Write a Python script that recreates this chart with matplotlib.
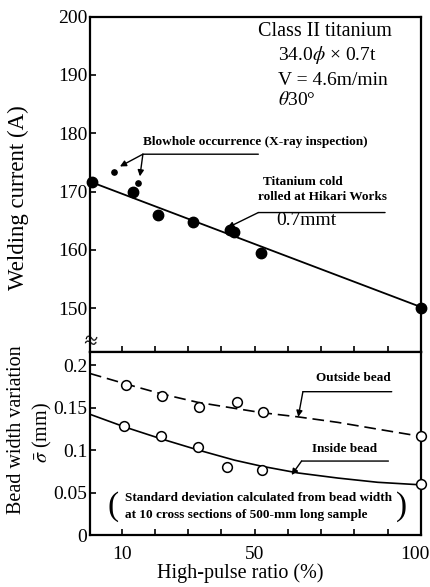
import matplotlib
matplotlib.use('Agg')
import matplotlib.pyplot as plt
from matplotlib.transforms import offset_copy

# welding current vs high-pulse ratio (filled dots)
cur_x = [1.2, 13.3, 21.0, 31.5, 42.6, 43.9, 51.9, 100]
cur_y = [171.6, 169.9, 166.0, 164.7, 163.4, 163.1, 159.4, 150.0]
# blowhole points (small dots)
blow_x = [7.8, 14.8]
blow_y = [173.3, 171.5]
# straight line through the current data
fit_x = [0.5, 100]
fit_y = [171.7, 150.2]

# bead width variation (open circles)
out_x = [11.2, 22.1, 33.4, 44.8, 52.6, 100]
out_y = [0.177, 0.163, 0.151, 0.157, 0.145, 0.116]
in_x = [10.7, 21.8, 33.1, 41.8, 52.1, 100]
in_y = [0.128, 0.116, 0.103, 0.080, 0.077, 0.060]

# curves
out_curve_x = [0.5, 11, 22, 33, 44, 52, 63, 75, 87, 100]
out_curve_y = [0.190, 0.178, 0.166, 0.156, 0.149, 0.144, 0.139, 0.1325, 0.1245, 0.116]
in_curve_x = [0.5, 11, 22, 33, 44, 52, 63, 75, 87, 100]
in_curve_y = [0.142, 0.127, 0.113, 0.100, 0.088, 0.081, 0.073, 0.067, 0.062, 0.059]

# ticks
xtick_vals = [10, 20, 30, 40, 50, 60, 70, 80, 90, 100]
xtick_labels = ['10', '', '', '', '50', '', '', '', '', '100']
cur_ticks = [150, 160, 170, 180, 190, 200]
sig_ticks = [0, 0.05, 0.1, 0.15, 0.2]
sig_labels = ['0', '0.05', '0.1', '0.15', '0.2']


def main():
    plt.rcParams['font.family'] = ['Liberation Serif', 'DejaVu Serif']
    plt.rcParams['mathtext.fontset'] = 'stix'

    fig = plt.figure(figsize=(4.31, 5.87), dpi=100)
    W, H = 431.0, 587.0
    ax1 = fig.add_axes([90 / W, 1 - 352 / H, 331 / W, 335.5 / H])
    ax2 = fig.add_axes([90 / W, 1 - 535 / H, 331 / W, 183 / H])

    for ax in (ax1, ax2):
        ax.set_xlim(0.5, 100)
        for s in ax.spines.values():
            s.set_linewidth(1.6)
        ax.set_xticks(xtick_vals)
        ax.tick_params(direction='in', length=4, width=1.2, labelsize=14,
                       top=False, right=False)
        ax.tick_params(axis='y', pad=2)
        ax.tick_params(axis='x', pad=8)

    # ---- top panel: welding current
    ax1.plot(fit_x, fit_y, color='black', lw=1.3, zorder=2)
    ax1.plot(cur_x, cur_y, 'o', color='black', ms=7.5, zorder=3, clip_on=False)
    ax1.plot(blow_x, blow_y, 'o', color='black', ms=3.8, zorder=3)
    ax1.set_ylim(142.5, 200)
    ax1.set_yticks(cur_ticks)
    ax1.tick_params(labelbottom=False)

    ax1.text(51, 197.5, 'Class II titanium', fontsize=14.5, va='center')
    ax1.text(57.1, 193.4, r'34.0$\phi$ × 0.7t', fontsize=14, va='center')
    ax1.text(57.1, 189.1, 'V = 4.6m/min', fontsize=14, va='center')
    ax1.text(57.1, 185.7, r'$\theta$30°', fontsize=14, va='center')

    arr = dict(arrowstyle='-|>', color='black', lw=1.0, mutation_scale=9,
               shrinkA=0, shrinkB=0)
    seg = dict(arrowstyle='-', color='black', lw=1.0, shrinkA=0, shrinkB=0)
    note = dict(fontsize=9.5, fontweight='bold', va='center')

    ax1.text(16.4, 178.5, 'Blowhole occurrence (X-ray inspection)', **note)
    ax1.annotate('', xy=(51.1, 176.4), xytext=(16.4, 176.4), arrowprops=seg)
    ax1.annotate('', xy=(9.5, 174.3), xytext=(16.4, 176.4), arrowprops=arr)
    ax1.annotate('', xy=(15.5, 172.6), xytext=(16.4, 176.4), arrowprops=arr)

    ax1.text(52.5, 171.6, 'Titanium cold', **note)
    ax1.text(51.1, 169.1, 'rolled at Hikari Works', **note)
    ax1.annotate('', xy=(89.2, 166.4), xytext=(51.1, 166.4), arrowprops=seg)
    ax1.annotate('', xy=(41.8, 163.8), xytext=(51.1, 166.4), arrowprops=arr)
    ax1.text(56.6, 165.1, '0.7mmt', fontsize=14, va='center')

    # axis break marks on the left spine
    ax1.text(0, 0.028, '≈', transform=ax1.transAxes, fontsize=17,
             ha='center', va='center', rotation=-10)

    # ---- bottom panel: bead width variation
    ax2.plot(out_curve_x, out_curve_y, color='black', lw=1.2,
             dashes=(7, 3.5), zorder=2)
    ax2.plot(in_curve_x, in_curve_y, color='black', lw=1.2, zorder=2)
    ax2.plot(out_x, out_y, 'o', mfc='white', mec='black', mew=1.1, ms=7,
             zorder=3, clip_on=False)
    ax2.plot(in_x, in_y, 'o', mfc='white', mec='black', mew=1.1, ms=7,
             zorder=3, clip_on=False)
    ax2.set_ylim(0, 0.2153)
    ax2.set_yticks(sig_ticks)
    ax2.set_yticklabels(sig_labels)
    ax2.set_xticklabels(xtick_labels)
    # keep the "100" label inside the figure
    last = ax2.get_xticklabels()[-1]
    last.set_ha('right')
    last.set_transform(offset_copy(last.get_transform(), fig=fig, x=9, y=0,
                                   units='dots'))

    ax2.text(68.4, 0.1843, 'Outside bead', **note)
    ax2.annotate('', xy=(91.2, 0.1686), xytext=(64.5, 0.1686), arrowprops=seg)
    ax2.annotate('', xy=(63.1, 0.139), xytext=(64.5, 0.1686), arrowprops=arr)

    ax2.text(67.1, 0.1008, 'Inside bead', **note)
    ax2.annotate('', xy=(90.2, 0.087), xytext=(64.1, 0.087), arrowprops=seg)
    ax2.annotate('', xy=(61.1, 0.0706), xytext=(64.1, 0.087), arrowprops=arr)

    ax2.text(11.0, 0.0431, 'Standard deviation calculated from bead width',
             **note)
    ax2.text(11.0, 0.0235, 'at 10 cross sections of 500-mm long sample',
             **note)
    ax2.text(7.5, 0.0333, '(', fontsize=24, ha='center', va='center')
    ax2.text(94.2, 0.0333, ')', fontsize=24, ha='center', va='center')

    # axis labels
    fig.text(18 / W, 1 - 197.5 / H, 'Welding current (A)', rotation=90,
             ha='center', va='center', fontsize=16.5)
    fig.text(17 / W, 1 - 430 / H, 'Bead width variation', rotation=90,
             ha='center', va='center', fontsize=14.5)
    fig.text(42 / W, 1 - 433 / H, r'$\bar{\sigma}$ (mm)', rotation=90,
             ha='center', va='center', fontsize=14.5)
    fig.text(240 / W, 1 - 573 / H, 'High-pulse ratio (%)',
             ha='center', va='center', fontsize=14.5)

    fig.savefig('out.png', dpi=100)


if __name__ == '__main__':
    main()
